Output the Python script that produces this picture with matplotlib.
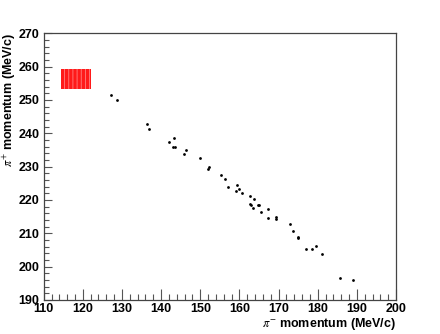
import matplotlib
matplotlib.use('Agg')
import matplotlib.pyplot as plt
from matplotlib.ticker import MultipleLocator

plt.rcParams['mathtext.fontset'] = 'stix'
plt.rcParams['hatch.linewidth'] = 0.6

# pi- momentum vs pi+ momentum (MeV/c)
pim = [127.3, 128.75, 136.5, 136.9, 141.96, 143.2, 143.0, 143.5, 145.9, 146.4,
       150.0, 151.85, 152.2, 155.3, 156.3, 157.0, 159.0, 159.4, 160.0, 160.6,
       162.6, 163.6, 162.6, 162.9, 163.5, 164.7, 165.1, 165.4, 167.3, 167.3,
       169.4, 169.4, 173.0, 173.6, 175.0, 175.0, 177.0, 178.6, 179.5, 181.1,
       185.7, 189.1]
pip = [251.5, 249.9, 242.9, 241.3, 237.4, 238.6, 235.9, 235.8, 233.7, 235.0,
       232.5, 229.4, 229.8, 227.6, 226.2, 224.0, 222.7, 224.4, 223.4, 222.2,
       221.2, 220.4, 218.8, 218.6, 217.6, 218.6, 218.6, 216.4, 217.4, 214.7,
       215.0, 214.4, 212.7, 210.8, 208.9, 208.5, 205.3, 205.4, 206.1, 203.7,
       196.5, 195.9]

# red box region
box_x = [114.5, 122.0]
box_y_lo = [253.4, 253.4]
box_y_hi = [259.2, 259.2]

fig = plt.figure(figsize=(4.4, 3.34), dpi=100)
ax = fig.add_axes([0.0993, 0.1018, 0.8007, 0.7985])

ax.fill_between(box_x, box_y_lo, box_y_hi, facecolor='#ff1a1a',
                edgecolor='#ff8080', hatch='||||', linewidth=0)
ax.plot(pim, pip, 'o', color='black', ms=2.0, mew=0)

ax.set_xlim(110, 200)
ax.set_ylim(190, 270)
ax.xaxis.set_major_locator(MultipleLocator(10))
ax.xaxis.set_minor_locator(MultipleLocator(2))
ax.yaxis.set_major_locator(MultipleLocator(10))
ax.yaxis.set_minor_locator(MultipleLocator(2))
ax.tick_params(axis='both', which='both', direction='in', top=False, right=False,
               color='#555555', width=0.8)
ax.tick_params(axis='x', which='major', length=8, pad=2)
ax.tick_params(axis='x', which='minor', length=4)
ax.tick_params(axis='y', which='major', length=6, pad=3)
ax.tick_params(axis='y', which='minor', length=3.5)
for lab in ax.get_xticklabels() + ax.get_yticklabels():
    lab.set_fontfamily('Liberation Sans')
    lab.set_fontweight('bold')
    lab.set_fontsize(9)
for sp in ax.spines.values():
    sp.set_color('#444444')
    sp.set_linewidth(0.9)

ax.set_xlabel(r'$\pi^{-}$ momentum (MeV/c)', fontfamily='Liberation Sans',
              fontweight='bold', fontsize=9, loc='right', labelpad=1)
ax.set_ylabel(r'$\pi^{+}$ momentum (MeV/c)', fontfamily='Liberation Sans',
              fontweight='bold', fontsize=9, loc='top')
ax.yaxis.set_label_coords(-0.072, 1.0)

fig.savefig('out.png', dpi=100)
